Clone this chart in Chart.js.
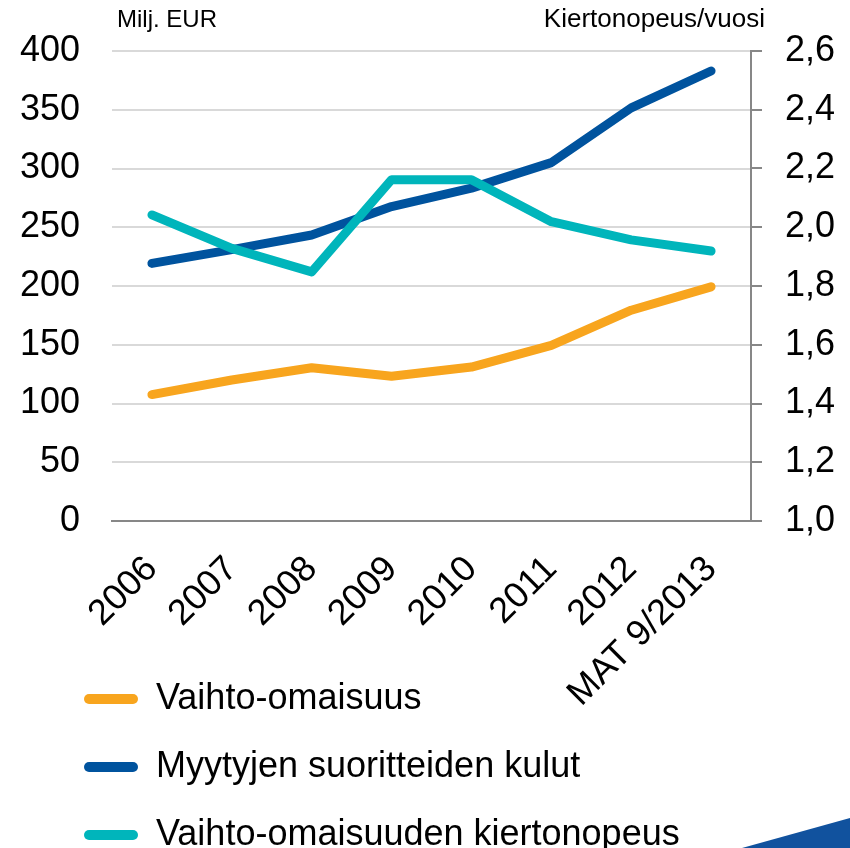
<!DOCTYPE html>
<html>
<head>
<meta charset="utf-8">
<script src="https://cdn.jsdelivr.net/npm/chart.js@4.4.0/dist/chart.umd.min.js"></script>
<style>
html,body{margin:0;padding:0;background:#fff;overflow:hidden;}
#wrap{position:relative;width:850px;height:848px;overflow:hidden;background:#fff;}
#box{position:absolute;left:0;top:0;width:850px;height:863px;}
#tri{position:absolute;left:0;top:0;width:850px;height:848px;pointer-events:none;
  clip-path:polygon(742px 848px,850px 818px,850px 848px);background:#11529E;}
</style>
</head>
<body>
<div id="wrap"><div id="box"><canvas id="c"></canvas></div><div id="tri"></div></div>
<script>
const categories = ['2006', '2007', '2008', '2009', '2010', '2011', '2012', 'MAT 9/2013'];
const inventory = [107.6, 120, 130.4, 123.2, 131, 149.5, 179.4, 199.3];
const costOfSales = [219.2, 231, 243.4, 267.6, 283.3, 305, 351.6, 383];
const turnoverRate = [2.042, 1.928, 1.848, 2.162, 2.162, 2.019, 1.957, 1.919];
const seriesLabels = ['Vaihto-omaisuus', 'Myytyjen suoritteiden kulut', 'Vaihto-omaisuuden kiertonopeus'];
const leftTitle = 'Milj. EUR';
const rightTitle = 'Kiertonopeus/vuosi';
const leftMin = 0, leftMax = 400, leftStep = 50;
const rightMin = 1.0, rightMax = 2.6, rightStep = 0.2;

const FONT = '"Liberation Sans", Arial, sans-serif';
const ORANGE = '#F8A51E', BLUE = '#00539E', TEAL = '#00B5BB';

const axisTitles = {
  id: 'axisTitles',
  afterDraw(chart) {
    const ctx = chart.ctx, a = chart.chartArea;
    ctx.save();
    ctx.fillStyle = '#000';
    ctx.textBaseline = 'middle';
    ctx.font = '24px ' + FONT;
    ctx.textAlign = 'left';
    ctx.fillText(leftTitle, a.left + 5, 20);
    ctx.font = '26px ' + FONT;
    ctx.textAlign = 'right';
    ctx.fillText(rightTitle, a.right + 14, 20);
    ctx.restore();
  }
};
const legendShift = {
  id: 'legendShift',
  afterLayout(chart) {
    const l = chart.legend;
    if (l) { l.left += 32; l.right += 32; }
  }
};

const lineDs = (label, data, color, axis, order) => ({
  label, data, borderColor: color, backgroundColor: color, yAxisID: axis,
  borderWidth: 9, pointRadius: 0, pointHoverRadius: 0, tension: 0,
  borderCapStyle: 'round', borderJoinStyle: 'round', fill: false, order
});

new Chart(document.getElementById('c'), {
  type: 'line',
  data: {
    labels: categories,
    datasets: [
      lineDs(seriesLabels[0], inventory, ORANGE, 'y', 2),
      lineDs(seriesLabels[1], costOfSales, BLUE, 'y', 1),
      lineDs(seriesLabels[2], turnoverRate, TEAL, 'y2', 0)
    ]
  },
  options: {
    responsive: true,
    maintainAspectRatio: false,
    animation: false,
    layout: { padding: { left: 20, right: 15, top: 51, bottom: 0 } },
    plugins: {
      tooltip: { enabled: false },
      legend: {
        position: 'bottom',
        align: 'start',
        labels: {
          boxWidth: 54, boxHeight: 10, padding: 32, color: '#000',
          font: { size: 36, family: FONT },
          useBorderRadius: true, borderRadius: 5,
          generateLabels: (chart) => chart.data.datasets.map((ds, i) => ({
            text: ds.label, fillStyle: ds.borderColor, strokeStyle: ds.borderColor,
            lineWidth: 0, hidden: false, datasetIndex: i, borderRadius: 5, fontColor: '#000'
          }))
        }
      }
    },
    scales: {
      x: {
        offset: true,
        grid: { display: false, drawTicks: false },
        border: { display: true, color: '#878787', width: 2 },
        ticks: { color: '#000', font: { size: 36, family: FONT }, maxRotation: 45, minRotation: 45, autoSkip: false, padding: 27 },
        afterFit(s) {
          s.height = 128; s.paddingLeft = 0; s.paddingRight = 0;
          s._computeLabelArea = () => undefined;
        }
      },
      y: {
        position: 'left', min: leftMin, max: leftMax,
        grid: { color: '#D9D9D9', lineWidth: 2, drawTicks: false },
        border: { display: false },
        ticks: { stepSize: leftStep, padding: 32, color: '#000', font: { size: 36, family: FONT } },
        afterFit(s) { s.width = 92; s.paddingTop = 0; s.paddingBottom = 0; }
      },
      y2: {
        position: 'right', min: rightMin, max: rightMax,
        grid: { drawOnChartArea: false, drawTicks: true, tickLength: 11, color: '#878787', tickColor: '#878787', lineWidth: 2 },
        border: { display: true, color: '#878787', width: 2 },
        ticks: { stepSize: rightStep, padding: 23, color: '#000', font: { size: 36, family: FONT },
          callback: (v) => Number(v).toFixed(1).replace('.', ',') },
        afterFit(s) { s.width = 84; s.paddingTop = 0; s.paddingBottom = 0; }
      }
    }
  },
  plugins: [axisTitles, legendShift]
});
</script>
</body>
</html>
